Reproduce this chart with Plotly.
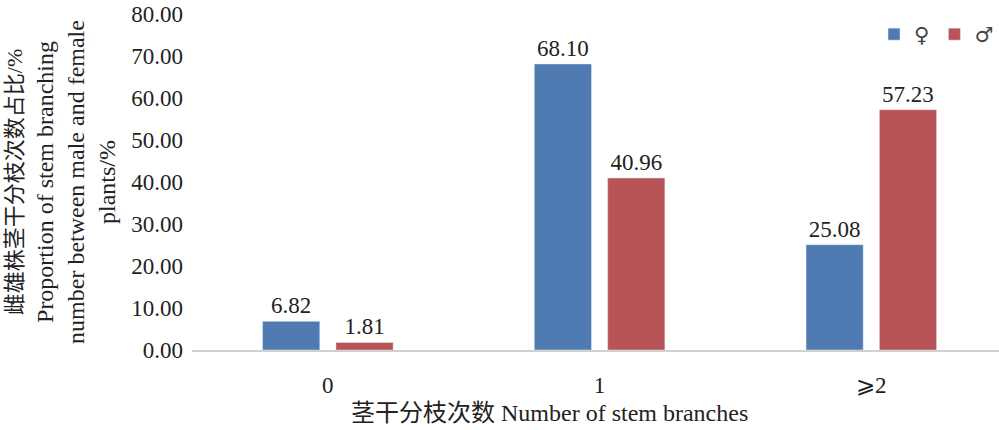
import plotly.graph_objects as go

categories = ["0", "1", "⩾2"]
female = [6.82, 68.10, 25.08]
male = [1.81, 40.96, 57.23]
y_ticks = [0, 10, 20, 30, 40, 50, 60, 70, 80]

FONT = "Liberation Serif, Times New Roman, Noto Sans CJK SC, serif"
BLUE = "#4F7BB2"
RED = "#B85357"

fig = go.Figure()
fig.add_trace(go.Bar(
    x=categories, y=female, name="♀", marker_color=BLUE,
    text=[f"{v:.2f}" for v in female], textposition="outside",
    textfont=dict(size=23, color="#222"), cliponaxis=False,
))
fig.add_trace(go.Bar(
    x=categories, y=male, name="♂", marker_color=RED,
    text=[f"{v:.2f}" for v in male], textposition="outside",
    textfont=dict(size=23, color="#222"), cliponaxis=False,
))

y_title = ("<span style='font-size:22px'>雌雄株茎干分枝次数占比/%</span><br>"
           "Proportion of stem branching<br>"
           "number between male and female<br>plants/%")

fig.update_layout(
    width=999, height=430,
    margin=dict(l=192, r=0, t=14, b=80),
    paper_bgcolor="white", plot_bgcolor="white",
    font=dict(family=FONT, size=23, color="#222"),
    barmode="group", bargap=0.46, bargroupgap=0.22,
    showlegend=True,
    legend=dict(orientation="h", x=1.0, xanchor="right", y=1.0, yanchor="top",
                font=dict(size=21, family="DejaVu Sans, sans-serif", color="#444"),
                itemwidth=30, tracegroupgap=0, bgcolor="rgba(0,0,0,0)"),
    xaxis=dict(range=[-0.5, 2.47], showline=True, linecolor="#D0D0D0",
               linewidth=1.5, ticks="", ticklabelstandoff=14,
               tickfont=dict(size=23)),
    yaxis=dict(range=[0, 80], tickvals=y_ticks,
               ticktext=[f"{v:.2f}" for v in y_ticks],
               showgrid=False, zeroline=False, showline=False,
               tickfont=dict(size=23), ticklabelstandoff=8,
               title=dict(text=y_title, font=dict(size=24), standoff=8)),
    annotations=[dict(text="茎干分枝次数 Number of stem branches",
                      xref="paper", yref="paper", x=0.443, y=0,
                      yshift=-48, xanchor="center", yanchor="top",
                      showarrow=False, font=dict(size=24))],
)

fig.write_html("out.html")
